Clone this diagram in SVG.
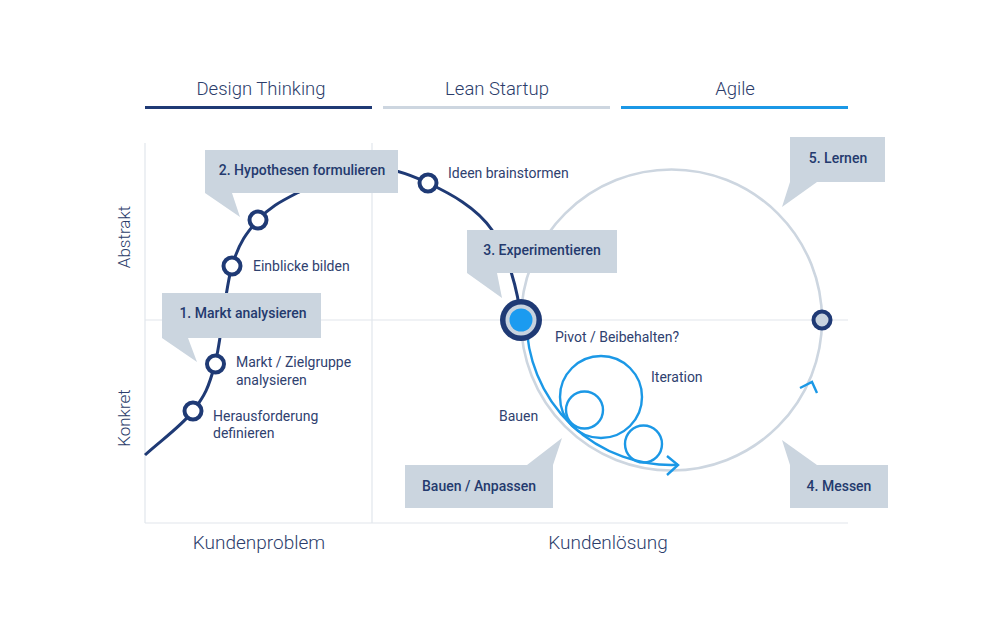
<svg xmlns="http://www.w3.org/2000/svg" width="1000" height="630" viewBox="0 0 1000 630">
<style>
.grid{stroke:#e1e6ec;stroke-width:1.2;fill:none}
.hdr{font-family:Roboto,"Liberation Sans",sans-serif;font-weight:300;font-size:18.5px;fill:#2c3d6b;text-anchor:middle}
.ax{font-family:Roboto,"Liberation Sans",sans-serif;font-weight:300;font-size:17px;fill:#2c3d6b;text-anchor:middle}
.axh{font-family:Roboto,"Liberation Sans",sans-serif;font-weight:300;font-size:19px;fill:#2c3d6b;text-anchor:middle}
.box{fill:#cbd5df}
.bl{font-family:Roboto,"Liberation Sans",sans-serif;font-weight:500;font-size:14px;fill:#243a6e;text-anchor:middle}
.lb{font-family:Roboto,"Liberation Sans",sans-serif;font-weight:400;font-size:14px;fill:#2f416f}
.node{fill:#fff;stroke:#1f3a75;stroke-width:4}
.blue{fill:none;stroke:#1b98e6;stroke-width:2.4}
</style>
<rect width="1000" height="630" fill="#fff"/>
<g id="headers">
<text class="hdr" x="261" y="95">Design Thinking</text>
<text class="hdr" x="497" y="95">Lean Startup</text>
<text class="hdr" x="735" y="95">Agile</text>
<line x1="145" y1="107.5" x2="372" y2="107.5" stroke="#1f3a75" stroke-width="3"/>
<line x1="383" y1="107.5" x2="610" y2="107.5" stroke="#cdd6e0" stroke-width="3"/>
<line x1="621" y1="107.5" x2="848" y2="107.5" stroke="#1b98e6" stroke-width="3"/>
</g>
<g id="grid">
<line class="grid" x1="145" y1="143" x2="145" y2="523"/>
<line class="grid" x1="372" y1="143" x2="372" y2="523"/>
<line class="grid" x1="145" y1="523" x2="848" y2="523"/>
<line class="grid" x1="145" y1="320" x2="848" y2="320"/>
</g>
<g id="axis-labels">
<text class="ax" transform="translate(130,237) rotate(-90)">Abstrakt</text>
<text class="ax" transform="translate(130,418) rotate(-90)">Konkret</text>
<text class="axh" x="259" y="549">Kundenproblem</text>
<text class="axh" x="608" y="549">Kundenlösung</text>
</g>
<g id="connectors">
<circle cx="671.5" cy="320" r="150.5" fill="none" stroke="#cdd6e0" stroke-width="2.6"/>
<path d="M145,455 C161,440.3 181.3,426.2 193,411 C204.7,395.8 208.5,388.2 215,364 C221.5,339.8 224.8,290 232,266 C239.2,242 247.2,232.2 258,220 C268.8,207.8 280,201.8 297,193 C314,184.2 338.2,168.7 360,167 C381.8,165.3 406,172.5 428,183 C450,193.5 476.5,207.2 492,230 C507.5,252.8 518,290 521,320" fill="none" stroke="#1f3a75" stroke-width="3"/>
<path class="blue" d="M526.5,320 A145,145 0 0 0 678,464.8"/>
<circle class="blue" cx="601" cy="397" r="41"/>
<circle class="blue" cx="584.5" cy="410" r="18.5"/>
<circle class="blue" cx="643.5" cy="444" r="18.5"/>
<polyline class="blue" points="667,456 678,465 667,475"/>
<polyline class="blue" points="800,388 812,382 817,393"/>
</g>
<g id="node-herausforderung">
<circle class="node" cx="193" cy="411" r="8.5"/>
<text class="lb" x="213" y="421">Herausforderung</text>
<text class="lb" x="213" y="438">definieren</text>
</g>
<g id="node-markt">
<circle class="node" cx="215.5" cy="364" r="8.5"/>
<text class="lb" x="236" y="367">Markt / Zielgruppe</text>
<text class="lb" x="236" y="385">analysieren</text>
</g>
<g id="node-einblicke">
<circle class="node" cx="232" cy="266" r="8.5"/>
<text class="lb" x="253" y="271">Einblicke bilden</text>
</g>
<g id="node-hypo">
<circle class="node" cx="258" cy="220" r="8.5"/>
</g>
<g id="node-ideen">
<circle class="node" cx="428" cy="183" r="8.5"/>
<text class="lb" x="448" y="178">Ideen brainstormen</text>
</g>
<g id="node-pivot">
<circle cx="521" cy="320" r="21" fill="#1f3a75"/>
<circle cx="521" cy="320" r="15.5" fill="#c8d3df"/>
<circle cx="521" cy="320" r="11.5" fill="#1b9bf0"/>
<text class="lb" x="555" y="342">Pivot / Beibehalten?</text>
</g>
<g id="node-right">
<circle cx="822" cy="320" r="8.5" fill="#c8d3df" stroke="#1f3a75" stroke-width="4"/>
</g>
<g id="labels-loop">
<text class="lb" x="651" y="382">Iteration</text>
<text class="lb" x="499" y="421">Bauen</text>
</g>
<g id="callout-1">
<polygon class="box" points="162,293 321,293 321,338 188,338 197,362 162,338"/>
<text class="bl" x="243" y="318">1. Markt analysieren</text>
</g>
<g id="callout-2">
<polygon class="box" points="205,150 398,150 398,193 232,193 240,217 205,193"/>
<text class="bl" x="302" y="175">2. Hypothesen formulieren</text>
</g>
<g id="callout-3">
<polygon class="box" points="467,230 617,230 617,273 497,273 502,298 467,273"/>
<text class="bl" x="542" y="255">3. Experimentieren</text>
</g>
<g id="callout-4">
<polygon class="box" points="790,465 782,440 817,465 888,465 888,508 790,508"/>
<text class="bl" x="839" y="491">4. Messen</text>
</g>
<g id="callout-5">
<polygon class="box" points="790,137 885,137 885,182 817,182 782,207 790,182"/>
<text class="bl" x="838" y="163">5. Lernen</text>
</g>
<g id="callout-bauen">
<polygon class="box" points="405,465 527,465 562,438 553,465 553,508 405,508"/>
<text class="bl" x="479" y="491">Bauen / Anpassen</text>
</g>
</svg>
